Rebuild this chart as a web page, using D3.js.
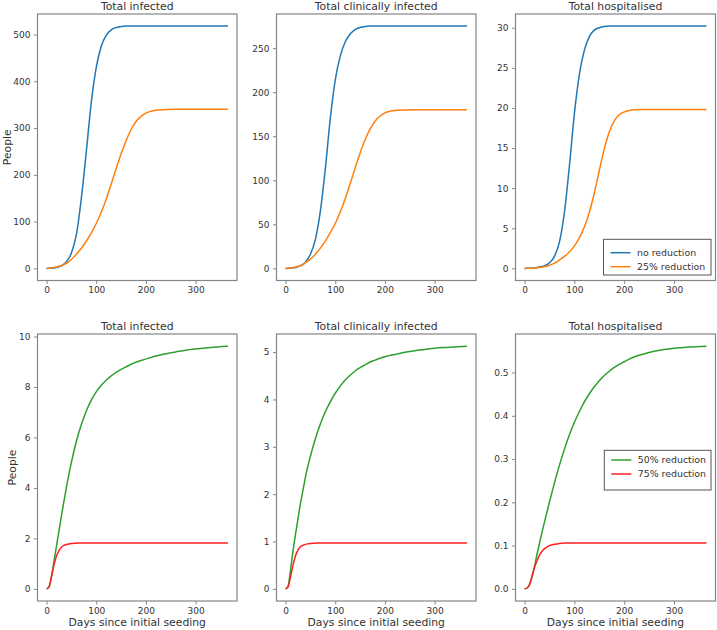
<!DOCTYPE html>
<html>
<head>
<meta charset="utf-8">
<script src="https://cdn.jsdelivr.net/npm/d3@7"></script>
<style>
  html, body { margin: 0; padding: 0; background: #fff; }
  svg { display: block; font-family: "DejaVu Sans", sans-serif; }
</style>
</head>
<body>
<svg id="chart" width="717" height="630"></svg>
<script>
// ---------- data ----------
const days = [0,5,10,15,20,25,30,35,40,50,60,70,80,90,100,110,120,130,140,150,160,170,180,190,200,210,220,240,260,280,300,330,365];

// top row: no reduction / 25% reduction
const infectedNone   = [0,0.2,0.5,1,2,3.5,5.5,9,14,33,72,150,250,355,430,475,498,510,515,517,518,518,518,518,518,518,518,518,518,518,518,518,518];
const infected25     = [0,0.5,1,2,3,4.5,6,8.5,11,19,30,43,58,76,96,120,148,180,213,245,273,297,314,325,332,336,338,339.5,340,340,340,340,340];
const clinicalNone   = [0,0.1,0.3,0.6,1,2,3,4.5,7,16,33,65,113,170,214,241,257,266,271,273.5,274.6,275,275,275,275,275,275,275,275,275,275,275,275];
const clinical25     = [0,0.2,0.5,1,1.5,2.2,3,4.6,6.5,10.5,16,23,31,40.5,51,64,79,96,114,131,146,158,167,173,176.5,178.3,179.2,179.8,180,180,180,180,180];
const hospNone       = [0,0.003,0.01,0.03,0.06,0.1,0.16,0.24,0.35,0.7,1.5,3.3,7.0,12.8,19.3,24.2,27.2,28.9,29.7,30,30.15,30.2,30.2,30.2,30.2,30.2,30.2,30.2,30.2,30.2,30.2,30.2,30.2];
const hosp25         = [0,0.003,0.01,0.03,0.05,0.08,0.12,0.17,0.22,0.4,0.65,1.05,1.5,2.05,2.8,3.8,5.15,7.0,9.4,12.2,14.9,17.0,18.4,19.15,19.5,19.68,19.76,19.8,19.8,19.8,19.8,19.8,19.8];

// bottom row: 50% reduction / 75% reduction
const infected50     = [0,0.08,0.5,1.1,1.7,2.3,2.9,3.48,4.03,5.02,5.85,6.51,7.05,7.48,7.81,8.07,8.27,8.44,8.58,8.7,8.8,8.9,8.98,9.05,9.115,9.17,9.23,9.32,9.39,9.46,9.51,9.57,9.62];
const infected75     = [0,0.08,0.5,0.95,1.3,1.52,1.65,1.72,1.76,1.8,1.81,1.82,1.82,1.82,1.82,1.82,1.82,1.82,1.82,1.82,1.82,1.82,1.82,1.82,1.82,1.82,1.82,1.82,1.82,1.82,1.82,1.82,1.82];
const clinical50     = [0,0.06,0.4,0.8,1.15,1.48,1.8,2.08,2.36,2.8,3.17,3.48,3.74,3.95,4.13,4.28,4.41,4.51,4.6,4.67,4.73,4.79,4.83,4.87,4.9,4.93,4.95,4.995,5.03,5.055,5.08,5.1,5.125];
const clinical75     = [0,0.04,0.25,0.5,0.7,0.82,0.89,0.92,0.94,0.96,0.965,0.97,0.97,0.97,0.97,0.97,0.97,0.97,0.97,0.97,0.97,0.97,0.97,0.97,0.97,0.97,0.97,0.97,0.97,0.97,0.97,0.97,0.97];
const hosp50         = [0,0.002,0.01,0.028,0.052,0.08,0.106,0.131,0.155,0.201,0.245,0.286,0.323,0.356,0.385,0.41,0.432,0.451,0.467,0.481,0.493,0.503,0.512,0.519,0.525,0.531,0.536,0.543,0.549,0.553,0.556,0.559,0.561];
const hosp75         = [0,0.002,0.01,0.03,0.05,0.065,0.078,0.087,0.093,0.1,0.103,0.105,0.106,0.106,0.106,0.106,0.106,0.106,0.106,0.106,0.106,0.106,0.106,0.106,0.106,0.106,0.106,0.106,0.106,0.106,0.106,0.106,0.106];

const titles = ["Total infected", "Total clinically infected", "Total hospitalised"];
const xTicks = [0, 100, 200, 300];
const yTicksTL = [0,100,200,300,400,500];
const yTicksTM = [0,50,100,150,200,250];
const yTicksTR = [0,5,10,15,20,25,30];
const yTicksBL = [0,2,4,6,8,10];
const yTicksBM = [0,1,2,3,4,5];
const yTicksBR = [0,0.1,0.2,0.3,0.4,0.5];
const legendTop = ["no reduction", "25% reduction"];
const legendBottom = ["50% reduction", "75% reduction"];
const colorsTop = ["#1f77b4", "#ff7f0e"];
const colorsBottom = ["#2ca02c", "#ff2020"];

// ---------- layout ----------
const colLeft = [37.5, 276.5, 515.5];
const colWidth = [199.5, 199.5, 200];
const rowTop = [14, 334];
const rowHeight = [266.5, 267];

const panels = [
  {r:0,c:0,title:titles[0],series:[infectedNone,infected25],colors:colorsTop,ticks:yTicksTL,fmt:d3.format("d")},
  {r:0,c:1,title:titles[1],series:[clinicalNone,clinical25],colors:colorsTop,ticks:yTicksTM,fmt:d3.format("d")},
  {r:0,c:2,title:titles[2],series:[hospNone,hosp25],colors:colorsTop,ticks:yTicksTR,fmt:d3.format("d"),legend:legendTop,legendBox:{x:603.5,y:239.3,w:107.5,h:35.7,rows:[252.7,266.7]}},
  {r:1,c:0,title:titles[0],series:[infected50,infected75],colors:colorsBottom,ticks:yTicksBL,fmt:d3.format("d")},
  {r:1,c:1,title:titles[1],series:[clinical50,clinical75],colors:colorsBottom,ticks:yTicksBM,fmt:d3.format("d")},
  {r:1,c:2,title:titles[2],series:[hosp50,hosp75],colors:colorsBottom,ticks:yTicksBR,fmt:d3.format(".1f"),legend:legendBottom,legendBox:{x:604.3,y:450.3,w:106.7,h:39.7,rows:[460,474]}}
];

const svg = d3.select("#chart");
const textColor = "#333";
const frameColor = "#858585";

const xMin = d3.min(days), xMax = d3.max(days);
const xPad = (xMax - xMin) * 0.05;

panels.forEach(p => {
  const left = colLeft[p.c], top = rowTop[p.r], w = colWidth[p.c], h = rowHeight[p.r];
  const yMax = d3.max(p.series, s => d3.max(s));
  const yMin = 0;
  const yPad = (yMax - yMin) * 0.05;
  const x = d3.scaleLinear().domain([xMin - xPad, xMax + xPad]).range([left, left + w]);
  const y = d3.scaleLinear().domain([yMin - yPad, yMax + yPad]).range([top + h, top]);

  const g = svg.append("g");

  // lines
  const line = d3.line().x((d, i) => x(days[i])).y(d => y(d)).curve(d3.curveMonotoneX);
  p.series.forEach((s, i) => {
    g.append("path").datum(s).attr("d", line)
      .attr("fill", "none").attr("stroke", p.colors[i]).attr("stroke-width", 1.5);
  });

  // frame
  g.append("rect").attr("x", left).attr("y", top).attr("width", w).attr("height", h)
    .attr("fill", "none").attr("stroke", frameColor).attr("stroke-width", 1.2);

  // axes
  const ax = g.append("g").attr("transform", `translate(0,${top + h})`)
    .call(d3.axisBottom(x).tickValues(xTicks).tickSize(3.5).tickPadding(3).tickFormat(d3.format("d")));
  const ay = g.append("g").attr("transform", `translate(${left},0)`)
    .call(d3.axisLeft(y).tickValues(p.ticks).tickSize(3.5).tickPadding(3.5).tickFormat(p.fmt));
  [ax, ay].forEach(a => {
    a.select(".domain").remove();
    a.selectAll("line").attr("stroke", frameColor);
    a.selectAll("text").attr("fill", textColor).style("font-size", "9px").style("font-family", "DejaVu Sans");
  });

  // title
  g.append("text").attr("x", left + w / 2).attr("y", top - 4.3)
    .attr("text-anchor", "middle").attr("fill", textColor)
    .style("font-size", "10.8px").text(p.title);

  // x label (bottom row)
  if (p.r === 1) {
    g.append("text").attr("x", left + w / 2).attr("y", 626)
      .attr("text-anchor", "middle").attr("fill", textColor)
      .style("font-size", "10.8px").text("Days since initial seeding");
  }
  // y label (left column)
  if (p.c === 0) {
    const lx = p.r === 0 ? 10.5 : 16;
    g.append("text").attr("transform", `translate(${lx},${top + h / 2}) rotate(-90)`)
      .attr("text-anchor", "middle").attr("fill", textColor)
      .style("font-size", "10.8px").text("People");
  }

  // legend
  if (p.legend) {
    const b = p.legendBox;
    const lg = g.append("g");
    lg.append("rect").attr("x", b.x).attr("y", b.y).attr("width", b.w).attr("height", b.h)
      .attr("fill", "#fff").attr("stroke", "#555").attr("stroke-width", 1);
    p.legend.forEach((name, i) => {
      const cy = b.rows[i];
      lg.append("line").attr("x1", b.x + 7).attr("x2", b.x + 27).attr("y1", cy).attr("y2", cy)
        .attr("stroke", p.colors[i]).attr("stroke-width", 1.5);
      lg.append("text").attr("x", b.x + 33.5).attr("y", cy + 3.3).attr("fill", textColor)
        .style("font-size", "9.4px").text(name);
    });
  }
});
</script>
</body>
</html>
